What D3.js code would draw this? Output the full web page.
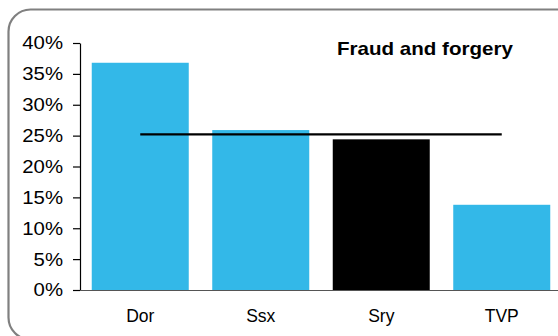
<!DOCTYPE html>
<html>
<head>
<meta charset="utf-8">
<script src="https://cdn.jsdelivr.net/npm/d3@7"></script>
<style>
  html, body { margin: 0; padding: 0; background: #fff; }
  svg { display: block; }
  text { font-family: "Liberation Sans", Arial, sans-serif; fill: #000; }
</style>
</head>
<body>
<svg id="chart" width="558" height="336"></svg>
<script>
// Share of offences: fraud and forgery, by force
const categories = ["Dor", "Ssx", "Sry", "TVP"];
const values = [0.368, 0.259, 0.244, 0.138];
const highlight = ["Sry"];
const average = 0.252;
const yTicks = [0, 0.05, 0.10, 0.15, 0.20, 0.25, 0.30, 0.35, 0.40];
const title = "Fraud and forgery";

const svg = d3.select("#chart");
const W = 558, H = 336;
const plot = { left: 80, right: 562, top: 43, bottom: 290 };

// Rounded outer frame
svg.append("rect")
  .attr("x", 8.5).attr("y", 9.5)
  .attr("width", 580).attr("height", 330)
  .attr("rx", 22).attr("ry", 22)
  .attr("fill", "none")
  .attr("stroke", "#808080")
  .attr("stroke-width", 2.2);

const x = d3.scaleBand()
  .domain(categories)
  .range([plot.left, plot.right])
  .paddingInner(0.195)
  .paddingOuter(0.0975);

const y = d3.scaleLinear()
  .domain([0, 0.40])
  .range([plot.bottom, plot.top]);

// Bars
svg.append("g").selectAll("rect")
  .data(categories.map((c, i) => ({ c, v: values[i] })))
  .join("rect")
  .attr("x", d => x(d.c))
  .attr("y", d => y(d.v))
  .attr("width", x.bandwidth())
  .attr("height", d => y(0) - y(d.v))
  .attr("fill", d => highlight.includes(d.c) ? "#000000" : "#33B8E8");

// Y axis
const yAxis = svg.append("g")
  .attr("transform", `translate(${plot.left},0)`)
  .call(d3.axisLeft(y).tickValues(yTicks).tickFormat(d3.format(".0%")).tickSize(7).tickPadding(10).tickSizeOuter(0));
yAxis.select(".domain").attr("stroke", "#000").attr("stroke-width", 1.2);
yAxis.selectAll(".tick line").attr("stroke", "#000").attr("stroke-width", 1.2);
yAxis.selectAll(".tick text")
  .style("font-family", "'Liberation Sans', Arial, sans-serif")
  .style("font-size", "18.5px")
  .attr("fill", "#000")
  .attr("textLength", function () { return this.getComputedTextLength() * 1.1; })
  .attr("lengthAdjust", "spacingAndGlyphs");

// X axis
const xAxis = svg.append("g")
  .attr("transform", `translate(0,${plot.bottom})`)
  .call(d3.axisBottom(x).tickSize(0).tickPadding(20));
xAxis.select(".domain").attr("stroke", "#555").attr("stroke-width", 1.2)
  .attr("d", `M${plot.left},0.5H${W}`);
xAxis.selectAll(".tick text")
  .style("font-family", "'Liberation Sans', Arial, sans-serif")
  .style("font-size", "17.5px")
  .attr("fill", "#000");

// Average line across the forces
svg.append("line")
  .attr("x1", x(categories[0]) + x.bandwidth() / 2)
  .attr("x2", x(categories[categories.length - 1]) + x.bandwidth() / 2)
  .attr("y1", y(average)).attr("y2", y(average))
  .attr("stroke", "#000")
  .attr("stroke-width", 2.2);

// Title
svg.append("text")
  .attr("x", 337).attr("y", 55)
  .style("font-size", "18.5px")
  .style("font-weight", "bold")
  .attr("textLength", 176)
  .attr("lengthAdjust", "spacingAndGlyphs")
  .text(title);
</script>
</body>
</html>
